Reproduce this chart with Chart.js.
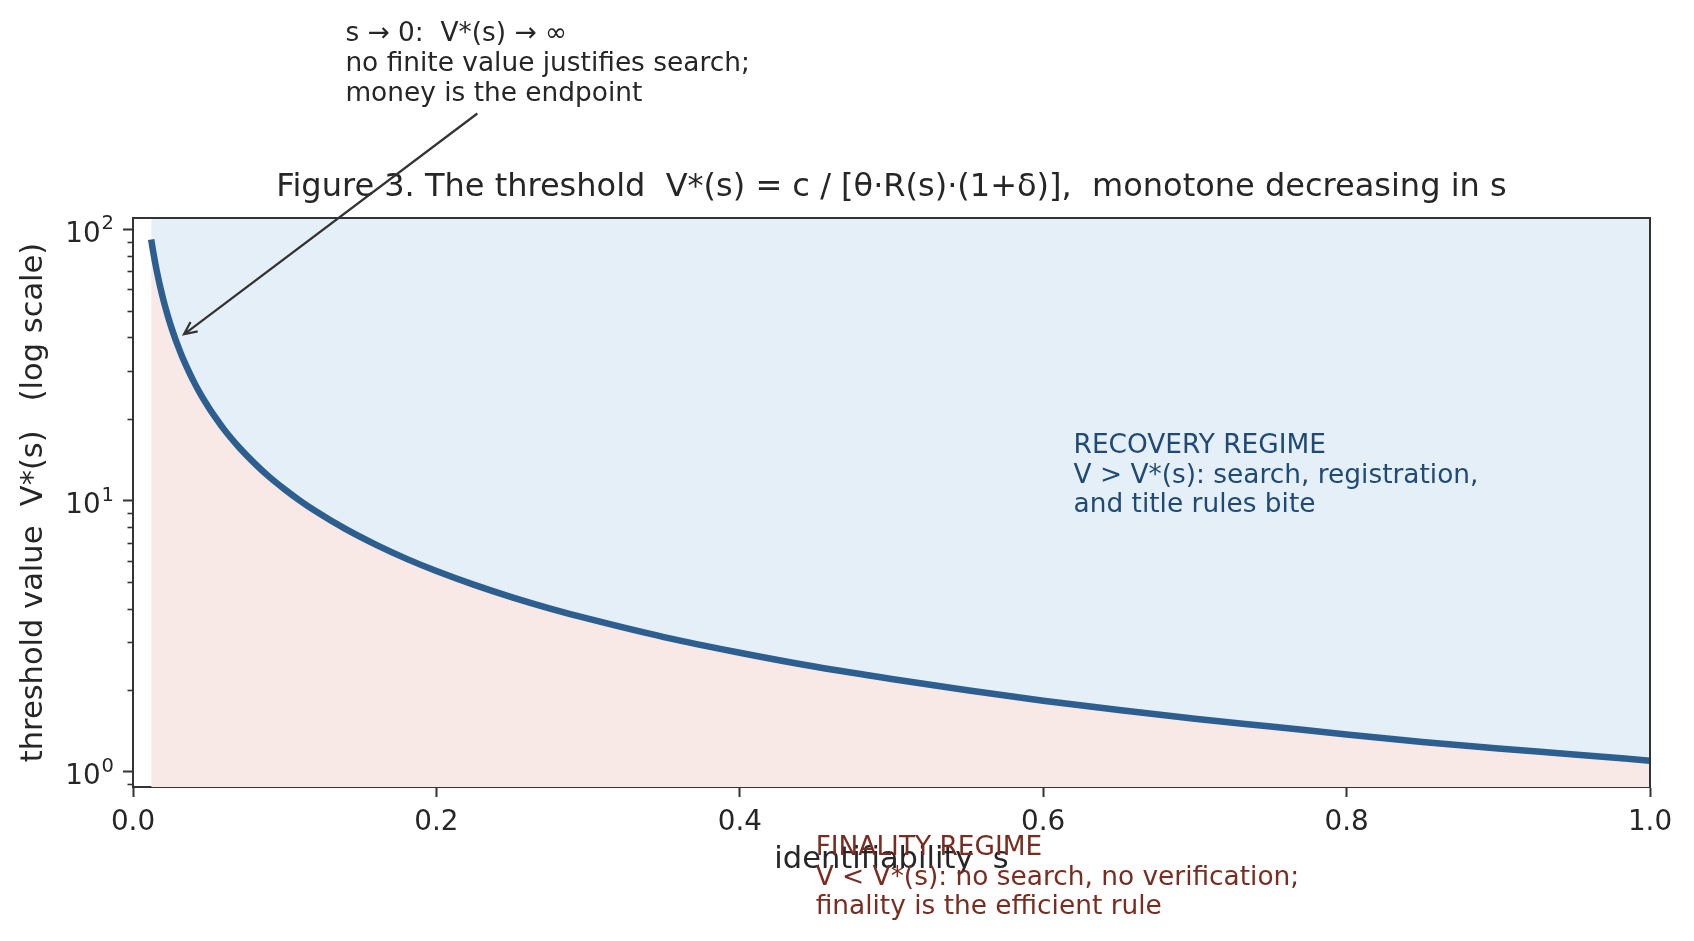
<!DOCTYPE html>
<html>
<head>
<meta charset="utf-8">
<script src="https://cdn.jsdelivr.net/npm/chart.js@4.4.0/dist/chart.umd.min.js"></script>
<style>
    html, body { margin: 0; padding: 0; background: #ffffff; }
    #contenedor { width: 1694px; height: 941px; position: relative; }
</style>
</head>
<body>
<div id="contenedor"><canvas id="graficaUmbral"></canvas></div>
<script>
// Values: identifiability s and threshold V*(s)
const sVals = [0.012, 0.013, 0.014, 0.015, 0.016, 0.017, 0.018, 0.019, 0.02, 0.022, 0.024, 0.026,
               0.028, 0.03, 0.033, 0.036, 0.04, 0.045, 0.05, 0.055, 0.06, 0.065, 0.07, 0.08,
               0.09, 0.1, 0.11, 0.12, 0.14, 0.16, 0.18, 0.2, 0.225, 0.25, 0.275, 0.3,
               0.35, 0.4, 0.45, 0.5, 0.55, 0.6, 0.65, 0.7, 0.75, 0.8, 0.85, 0.9, 0.95, 1.0];
const vStar = [91.7, 84.6, 78.6, 73.3, 68.8, 64.7, 61.1, 57.9, 55.0, 50.0, 45.8, 42.3,
               39.3, 36.7, 33.3, 30.6, 27.5, 24.4, 22.0, 20.0, 18.3, 16.9, 15.7, 13.75,
               12.2, 11.0, 10.0, 9.17, 7.86, 6.88, 6.11, 5.5, 4.89, 4.4, 4.0, 3.67,
               3.14, 2.75, 2.44, 2.2, 2.0, 1.83, 1.69, 1.57, 1.47, 1.375, 1.29, 1.22, 1.16, 1.1];

// Axis ticks and labels
const xTicks = [0, 0.2, 0.4, 0.6, 0.8, 1.0];
const yMajorTicks = [1, 10, 100];
const yTickBase = '10';
const yTickExp = ['0', '1', '2'];

const textColor = '#262626';
const spineColor = '#333333';
const fontFamily = "'DejaVu Sans', sans-serif";

Chart.defaults.font.family = fontFamily;
Chart.defaults.color = textColor;

// Texts drawn on top of the plot
const titulo = 'Figure 3. The threshold  V*(s) = c / [θ·R(s)·(1+δ)],  monotone decreasing in s';
const notaArriba = ['s → 0:  V*(s) → ∞', 'no finite value justifies search;', 'money is the endpoint'];
const notaRecuperacion = ['RECOVERY REGIME', 'V > V*(s): search, registration,', 'and title rules bite'];
const notaFinalidad = ['FINALITY REGIME', 'V < V*(s): no search, no verification;', 'finality is the efficient rule'];

const puntos = sVals.map((s, i) => ({ x: s, y: vStar[i] }));

// Draws title, spines, minor ticks, y labels, annotations and the arrow
const pluginAnotaciones = {
    id: 'anotaciones',
    afterDraw: (chart) => {
        const { ctx, chartArea: area, scales: { x, y } } = chart;
        ctx.save();

        // top and right spines
        ctx.strokeStyle = spineColor;
        ctx.lineWidth = 2;
        ctx.beginPath();
        ctx.moveTo(area.left, area.top);
        ctx.lineTo(area.right, area.top);
        ctx.lineTo(area.right, area.bottom);
        ctx.stroke();

        // minor ticks of the log axis
        ctx.lineWidth = 1.6;
        for (let dec = 0.1; dec <= 100; dec *= 10) {
            for (let m = 2; m <= 9; m++) {
                const v = m * dec;
                if (v < y.min || v > y.max) continue;
                const py = Math.round(y.getPixelForValue(v)) + 0.5;
                ctx.beginPath();
                ctx.moveTo(area.left, py);
                ctx.lineTo(area.left - 5.5, py);
                ctx.stroke();
            }
        }

        // y tick labels as powers of ten
        ctx.fillStyle = textColor;
        ctx.textBaseline = 'alphabetic';
        ctx.textAlign = 'right';
        yMajorTicks.forEach((v, i) => {
            const py = y.getPixelForValue(v);
            const derecha = area.left - 19;
            ctx.font = `19.5px ${fontFamily}`;
            const anchoExp = ctx.measureText(yTickExp[i]).width;
            ctx.fillText(yTickExp[i], derecha, py);
            ctx.font = `27.8px ${fontFamily}`;
            ctx.fillText(yTickBase, derecha - anchoExp - 1, py + 12.3);
        });

        // title
        ctx.font = `32px ${fontFamily}`;
        ctx.textAlign = 'center';
        ctx.fillText(titulo, (area.left + area.right) / 2, area.top - 22);

        // multi-line notes
        const escribir = (lineas, px, py, color) => {
            ctx.fillStyle = color;
            ctx.font = `26.4px ${fontFamily}`;
            ctx.textAlign = 'left';
            lineas.forEach((linea, i) => ctx.fillText(linea, px, py + i * 29.7));
        };
        escribir(notaArriba, x.getPixelForValue(0.14), y.getPixelForValue(492), textColor);
        escribir(notaRecuperacion, x.getPixelForValue(0.62), y.getPixelForValue(15), '#1f4a74');
        escribir(notaFinalidad, x.getPixelForValue(0.45), y.getPixelForValue(0.494), '#7b2c20');

        // arrow from the note to the curve
        const cola = { x: x.getPixelForValue(0.227), y: y.getPixelForValue(267) };
        const punta = { x: x.getPixelForValue(0.0336), y: y.getPixelForValue(41) };
        ctx.strokeStyle = spineColor;
        ctx.lineWidth = 2.2;
        ctx.beginPath();
        ctx.moveTo(cola.x, cola.y);
        ctx.lineTo(punta.x, punta.y);
        const ang = Math.atan2(cola.y - punta.y, cola.x - punta.x);
        const abre = 25 * Math.PI / 180;
        ctx.moveTo(punta.x + 14 * Math.cos(ang + abre), punta.y + 14 * Math.sin(ang + abre));
        ctx.lineTo(punta.x, punta.y);
        ctx.lineTo(punta.x + 14 * Math.cos(ang - abre), punta.y + 14 * Math.sin(ang - abre));
        ctx.stroke();

        ctx.restore();
    }
};

const ctx = document.getElementById('graficaUmbral').getContext('2d');
let chart = new Chart(ctx, {
    type: 'line',
    data: {
        datasets: [{
            label: 'V*(s)',
            data: puntos,
            borderColor: '#2c5f8f',
            borderWidth: 6.5,
            borderCapStyle: 'butt',
            borderJoinStyle: 'round',
            pointRadius: 0,
            cubicInterpolationMode: 'monotone',
            fill: false
        }, {
            label: 'recovery',
            data: puntos,
            borderWidth: 0,
            pointRadius: 0,
            cubicInterpolationMode: 'monotone',
            backgroundColor: '#e4eff8',
            fill: 'end'
        }, {
            label: 'finality',
            data: puntos,
            borderWidth: 0,
            pointRadius: 0,
            cubicInterpolationMode: 'monotone',
            backgroundColor: '#f8e9e6',
            fill: 'start'
        }]
    },
    options: {
        responsive: true,
        maintainAspectRatio: false,
        animation: false,
        layout: { padding: { top: 218, left: 0, right: 44, bottom: 0 } },
        plugins: {
            legend: { display: false },
            tooltip: { enabled: false }
        },
        scales: {
            x: {
                type: 'linear',
                min: 0,
                max: 1,
                afterBuildTicks: (scale) => { scale.ticks = xTicks.map(v => ({ value: v })); },
                afterFit: (scale) => { scale.height = 154; },
                ticks: {
                    callback: (v) => v.toFixed(1),
                    font: { size: 27.8 },
                    color: textColor,
                    padding: 9,
                    maxRotation: 0
                },
                grid: { drawOnChartArea: false, tickLength: 10, color: spineColor, tickWidth: 2 },
                border: { color: spineColor, width: 2 },
                title: {
                    display: true,
                    text: 'identifiability  s',
                    font: { size: 30.5 },
                    color: textColor,
                    padding: { top: 0, bottom: 63 }
                }
            },
            y: {
                type: 'logarithmic',
                min: 0.88,
                max: 110,
                afterBuildTicks: (scale) => { scale.ticks = yMajorTicks.map(v => ({ value: v })); },
                afterFit: (scale) => { scale.width = 133; },
                ticks: { display: false },
                grid: { drawOnChartArea: false, tickLength: 10, color: spineColor, tickWidth: 2 },
                border: { color: spineColor, width: 2 },
                title: {
                    display: true,
                    text: 'threshold value  V*(s)   (log scale)',
                    font: { size: 30.5 },
                    color: textColor,
                    padding: { top: 16, bottom: 0 }
                }
            }
        }
    },
    plugins: [pluginAnotaciones]
});
</script>
</body>
</html>
